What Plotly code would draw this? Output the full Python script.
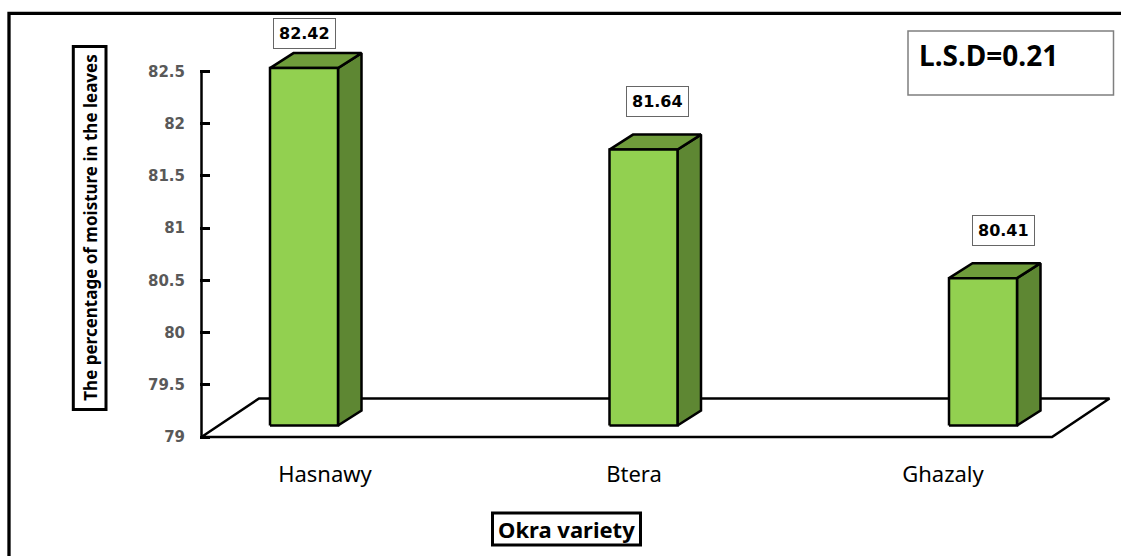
import plotly.graph_objects as go

# ---------------- data ----------------
categories = ["Hasnawy", "Btera", "Ghazaly"]
moisture = [82.42, 81.64, 80.41]
value_labels = ["82.42", "81.64", "80.41"]
y_ticks = [79, 79.5, 80, 80.5, 81, 81.5, 82, 82.5]
y_tick_labels = ["79", "79.5", "80", "80.5", "81", "81.5", "82", "82.5"]
lsd_text = "L.S.D=0.21"
y_title = "The percentage of moisture in the leaves"
x_title = "Okra variety"

# ---------------- layout geometry (pixels) ----------------
W, H = 1121, 556
PLOT_L, PLOT_R, PLOT_T, PLOT_B = 200, 1115, 40, 441
Y0_PX = 437            # pixel row of the value 79
PX_PER_Y = 104.5       # pixels per unit of moisture
CAT0_PX = 304          # pixel column of the first bar centre
PX_PER_CAT = 339.5     # pixels between bar centres
LBL0_PX, LBL_STEP_PX = 325, 309   # category label positions

ymin = 79 - (PLOT_B - Y0_PX) / PX_PER_Y
ymax = 79 + (Y0_PX - PLOT_T) / PX_PER_Y
xmin = (PLOT_L - CAT0_PX) / PX_PER_CAT
xmax = (PLOT_R - CAT0_PX) / PX_PER_CAT

# 3-D bar geometry (converted to axis units)
half_w = 34 / PX_PER_CAT
depth_x = 23.5 / PX_PER_CAT
depth_y = 15 / PX_PER_Y
lift = 11.5 / PX_PER_Y
base = 79 + lift

# floor geometry
axis_x = (201.5 - CAT0_PX) / PX_PER_CAT
floor_right = (1052 - CAT0_PX) / PX_PER_CAT
floor_dx = 57.5 / PX_PER_CAT
floor_dy = 38.5 / PX_PER_Y

FRONT = "#92D050"
TOP = "#6F9C3B"
SIDE = "#5E8733"
EDGE = "black"

label_xshift = [0, 14, 20]
label_yshift = [20, 33, 33]


def px_to_paper_x(px):
    return (px - PLOT_L) / (PLOT_R - PLOT_L)


def px_to_paper_y(py):
    return (PLOT_B - py) / (PLOT_B - PLOT_T)


fig = go.Figure()

# floor
fx = [axis_x, floor_right, floor_right + floor_dx, axis_x + floor_dx, axis_x]
fy = [79, 79, 79 + floor_dy, 79 + floor_dy, 79]
fig.add_trace(go.Scatter(x=fx, y=fy, mode="lines", fill="toself", fillcolor="white",
                         line=dict(color=EDGE, width=2.5), hoverinfo="skip", showlegend=False))

# value axis line
fig.add_trace(go.Scatter(x=[axis_x, axis_x], y=[79, y_ticks[-1] + 0.01], mode="lines",
                         line=dict(color=EDGE, width=2.5), hoverinfo="skip", showlegend=False))

# 3-D bars
for i, v in enumerate(moisture):
    c = i
    l, r = c - half_w, c + half_w
    top = v + lift
    side_x = [r, r + depth_x, r + depth_x, r, r]
    side_y = [base, base + depth_y, top + depth_y, top, base]
    top_x = [l, r, r + depth_x, l + depth_x, l]
    top_y = [top, top, top + depth_y, top + depth_y, top]
    front_x = [l, r, r, l, l]
    front_y = [base, base, top, top, base]
    for xs, ys, col in ((side_x, side_y, SIDE), (top_x, top_y, TOP), (front_x, front_y, FRONT)):
        fig.add_trace(go.Scatter(x=xs, y=ys, mode="lines", fill="toself", fillcolor=col,
                                 line=dict(color=EDGE, width=2.5), hoverinfo="skip",
                                 showlegend=False))
    fig.add_annotation(x=c, y=top + depth_y, xref="x", yref="y", text="<b>%s</b>" % value_labels[i],
                       showarrow=False, xshift=label_xshift[i], yshift=label_yshift[i],
                       font=dict(family="DejaVu Sans", size=16, color="black"),
                       bgcolor="white", bordercolor="#666666", borderwidth=1, borderpad=5)

# invisible trace carrying the category axis
fig.add_trace(go.Scatter(x=categories, y=moisture, xaxis="x2", mode="markers",
                         marker=dict(opacity=0), hoverinfo="skip", showlegend=False))

fig.update_layout(
    width=W, height=H,
    margin=dict(l=PLOT_L, r=W - PLOT_R, t=PLOT_T, b=H - PLOT_B, pad=0),
    paper_bgcolor="white", plot_bgcolor="white",
    showlegend=False,
    xaxis=dict(range=[xmin, xmax], visible=False, fixedrange=True),
    xaxis2=dict(type="category", overlaying="x", side="bottom", anchor="y",
                range=[(PLOT_L - LBL0_PX) / LBL_STEP_PX, (PLOT_R - LBL0_PX) / LBL_STEP_PX],
                showgrid=False, zeroline=False, showline=False, ticks="",
                ticklabelstandoff=18,
                tickfont=dict(family="Noto Sans", size=22, color="black")),
    yaxis=dict(range=[ymin, ymax], tickvals=y_ticks, ticktext=y_tick_labels,
               showgrid=False, zeroline=False, showline=False,
               ticks="inside", ticklen=10, tickwidth=2.5, tickcolor="black",
               ticklabelstandoff=14,
               tickfont=dict(family="DejaVu Sans", size=15, color="#595959", weight="bold")),
)

shapes = []
# outer frame
shapes.append(dict(type="rect", xref="paper", yref="paper",
                   x0=px_to_paper_x(9), x1=px_to_paper_x(1135),
                   y0=px_to_paper_y(575), y1=px_to_paper_y(13.3),
                   line=dict(color="black", width=3.3), fillcolor="rgba(0,0,0,0)", layer="below"))
# y title box
shapes.append(dict(type="rect", xref="paper", yref="paper",
                   x0=px_to_paper_x(73.3), x1=px_to_paper_x(106),
                   y0=px_to_paper_y(409.5), y1=px_to_paper_y(46.5),
                   line=dict(color="black", width=3), fillcolor="white"))
# x title box
shapes.append(dict(type="rect", xref="paper", yref="paper",
                   x0=px_to_paper_x(492.5), x1=px_to_paper_x(640.5),
                   y0=px_to_paper_y(545), y1=px_to_paper_y(513),
                   line=dict(color="black", width=3), fillcolor="white"))
# LSD box
shapes.append(dict(type="rect", xref="paper", yref="paper",
                   x0=px_to_paper_x(908), x1=px_to_paper_x(1113.5),
                   y0=px_to_paper_y(95), y1=px_to_paper_y(31),
                   line=dict(color="#7F7F7F", width=1.5), fillcolor="white"))
fig.update_layout(shapes=shapes)

fig.add_annotation(x=px_to_paper_x(89.7), y=px_to_paper_y(228), xref="paper", yref="paper",
                   text="<b>%s</b>" % y_title, textangle=-90, showarrow=False,
                   xanchor="center", yanchor="middle",
                   font=dict(family="Noto Sans", size=17, color="black"))
fig.add_annotation(x=px_to_paper_x(566.5), y=px_to_paper_y(529), xref="paper", yref="paper",
                   text="<b>%s</b>" % x_title, showarrow=False,
                   xanchor="center", yanchor="middle",
                   font=dict(family="Noto Sans", size=22, color="black"))
fig.add_annotation(x=px_to_paper_x(917), y=px_to_paper_y(54.5), xref="paper", yref="paper",
                   text="<b>%s</b>" % lsd_text, showarrow=False,
                   xanchor="left", yanchor="middle",
                   font=dict(family="Noto Sans", size=28, color="black"))

fig.write_html("out.html")
